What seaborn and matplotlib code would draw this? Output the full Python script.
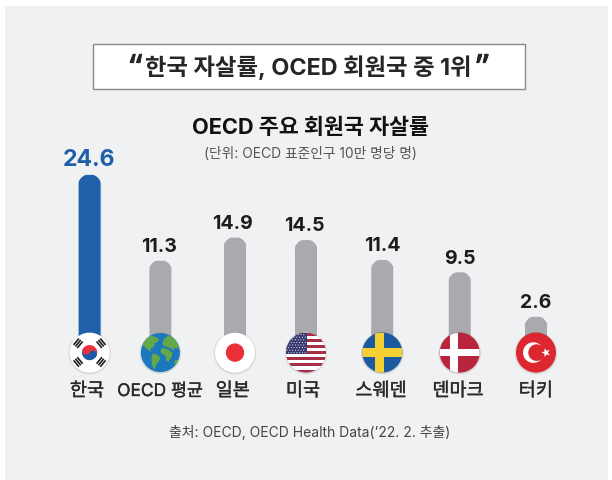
import numpy as np
import pandas as pd
import matplotlib
matplotlib.use("Agg")
import matplotlib.pyplot as plt
import matplotlib.patheffects as pe
import seaborn as sns
from matplotlib.patches import Circle, Rectangle, Polygon, Wedge

countries = ["한국", "OECD 평균", "일본", "미국", "스웨덴", "덴마크", "터키"]
rates = [24.6, 11.3, 14.9, 14.5, 11.4, 9.5, 2.6]
rate_labels = ["24.6", "11.3", "14.9", "14.5", "11.4", "9.5", "2.6"]
headline = "한국 자살률, OCED 회원국 중 1위"
chart_title = "OECD 주요 회원국 자살률"
unit_note = "(단위: OECD 표준인구 10만 명당 명)"
source_note = "출처: OECD, OECD Health Data(’22. 2. 추출)"

# layout (pixels)
W, H = 612, 480
CX = [89.6, 160.4, 235.0, 306.0, 382.3, 459.7, 536.0]
VALUE_X = [89.3, 158.8, 232.8, 304.5, 382.5, 459.7, 536.0]
NAME_X = [87.0, 160.0, 232.8, 303.0, 381.0, 458.0, 535.8]
BAR_W = 23.5
Y0 = 332.75
PX_PER_UNIT = 6.44
FLAG_Y = 352.6
FLAG_R = 20

sns.set_theme(style="white")
FONT = ["Inter", "Noto Sans CJK KR", "DejaVu Sans"]
plt.rcParams["font.family"] = FONT

fig = plt.figure(figsize=(W / 100, H / 100), dpi=100, facecolor="white")

bg = fig.add_axes([0, 0, 1, 1], zorder=0)
bg.set_xlim(0, W); bg.set_ylim(H, 0); bg.axis("off")
bg.add_patch(Rectangle((5, 6), 603, 474, fc="#f0f1f3", ec="none"))

ax = fig.add_axes([0, 0, 1, 1], zorder=1)
ax.patch.set_alpha(0)
df = pd.DataFrame({"country": countries, "rate": rates})
sns.barplot(data=df, x="country", y="rate", hue="country", order=countries,
            hue_order=countries, dodge=False, legend=False, ax=ax,
            palette=["#2060a8"] + ["#a9aaad"] * 6, saturation=1, width=0.32)
ax.set_xlim(-CX[0] / 75, (W - CX[0]) / 75)
ax.set_ylim(Y0 / PX_PER_UNIT - H / PX_PER_UNIT, Y0 / PX_PER_UNIT)
ax.set_xlabel(""); ax.set_ylabel("")
sns.despine(ax=ax, left=True, bottom=True)
ax.set_yticks([])
ax.set_xticks([(c - CX[0]) / 75 for c in CX])
ax.set_xticklabels([])
ax.tick_params(length=0)

ov = fig.add_axes([0, 0, 1, 1], zorder=2)
ov.patch.set_alpha(0)
ov.set_xlim(0, W); ov.set_ylim(H, 0); ov.axis("off")

bars = [p for p in ax.patches if p.get_height() > 0]
bars.sort(key=lambda p: p.get_x())
theta = np.linspace(np.pi, 2 * np.pi, 40)
for c, p, v in zip(CX, bars, rates):
    x = (c - CX[0]) / 75
    wdata = BAR_W / 75
    p.set_x(x - wdata / 2); p.set_width(wdata)
    p.set_y(-1.5); p.set_height(v + 1.5)
    p.set_snap(False)
    top = Y0 - v * PX_PER_UNIT
    r = BAR_W / 2
    cap = [(c + r * np.cos(a), top + r + r * np.sin(a)) for a in theta]
    outline = cap + [(c + r, 420), (c - r, 420)]
    p.set_clip_path(Polygon(outline, closed=True, transform=ov.transData))

for i, (lx, v, lab) in enumerate(zip(VALUE_X, rates, rate_labels)):
    top = Y0 - v * PX_PER_UNIT
    col = "#2060a8" if i == 0 else "#1c1c1c"
    fs = 16.6 if i == 0 else 14
    ov.text(lx, top - (14.8 if i == 0 else 13), lab, ha="center", va="center",
            fontsize=fs, fontweight="bold", color=col)

ov.add_patch(Rectangle((92.5, 43.5), 432, 45, fc="white", ec="#8a8a8a", lw=1))
ov.text(308, 67.5, headline, ha="center", va="center", fontsize=16.8,
        fontweight="bold", color="#262626")
quote_fx = [pe.withStroke(linewidth=0.6, foreground="#262626")]
ov.text(136, 70, "“", ha="center", va="center", fontsize=25, fontweight="bold",
        color="#262626", family=["Noto Sans", "DejaVu Sans"], path_effects=quote_fx)
ov.text(482.5, 70, "”", ha="center", va="center", fontsize=25, fontweight="bold",
        color="#262626", family=["Noto Sans", "DejaVu Sans"], path_effects=quote_fx)
ov.text(310, 127.5, chart_title, ha="center", va="center", fontsize=15.7,
        fontweight="bold", color="#111111")
ov.text(310, 154.5, unit_note, ha="center", va="center", fontsize=9.9, color="#555555")
ov.text(310, 432.5, source_note, ha="center", va="center", fontsize=10, color="#444444")
medium = [pe.withStroke(linewidth=0.25, foreground="#2a2a2a")]
for nx, name in zip(NAME_X, countries):
    size = 12.5 if name.startswith("OECD") else 13.4
    ov.text(nx, 391.5, name, ha="center", va="center", fontsize=size,
            color="#2a2a2a", path_effects=medium)


def disc(cx, fc="white", r=FLAG_R, shadow=True):
    if shadow:
        ov.add_patch(Circle((cx, FLAG_Y + 0.6), r + 1.2, fc="#000000", alpha=0.10, ec="none"))
    c = Circle((cx, FLAG_Y), r, fc=fc, ec="none")
    ov.add_patch(c)
    return c


def clipped(artist, clip):
    ov.add_patch(artist)
    artist.set_clip_path(clip)
    return artist


# Korea
cx = CX[0]
d = disc(cx)
rr = 7.6
ang = 28
ov.add_patch(Wedge((cx, FLAG_Y), rr, ang - 180, ang, fc="#e5323b", ec="none"))
ov.add_patch(Wedge((cx, FLAG_Y), rr, ang, ang + 180, fc="#1c5ba8", ec="none"))
t = np.deg2rad(ang)
ux, uy = np.cos(t), np.sin(t)
ov.add_patch(Circle((cx + ux * rr / 2, FLAG_Y + uy * rr / 2), rr / 2, fc="#1c5ba8", ec="none"))
ov.add_patch(Circle((cx - ux * rr / 2, FLAG_Y - uy * rr / 2), rr / 2, fc="#e5323b", ec="none"))
for sx, sy, rot in [(-1, -1, -50), (1, -1, 50), (-1, 1, 50), (1, 1, -50)]:
    bx, by = cx + sx * 11.5, FLAG_Y + sy * 9.4
    ca, sa = np.cos(np.deg2rad(rot)), np.sin(np.deg2rad(rot))
    for off in (-2.4, 0, 2.4):
        hw, hh = 0.85, 4.2
        pts = [(-hh, off - hw), (hh, off - hw), (hh, off + hw), (-hh, off + hw)]
        ov.add_patch(Polygon([(bx + a * ca - b * sa, by + a * sa + b * ca) for a, b in pts],
                             fc="#222222", ec="none"))

# globe
cx = CX[1]
d = disc(cx, "#1b78bd", r=19.5)
continents = [
    [(-17, -13), (-10, -17), (-3, -15), (-1, -12), (-6, -9), (-6, -6), (-10, -4), (-9, -1), (-13, -3), (-17, -7), (-19, -9)],
    [(-8, 1), (-3, 2), (0, 5), (-1, 8), (-4, 12), (-6, 17), (-8, 14), (-9, 7)],
    [(3, -13), (8, -17), (14, -15), (19, -9), (18, -4), (14, -5), (13, -2), (9, -5), (5, -6), (2, -8)],
    [(2, -5), (8, -3), (12, 0), (11, 5), (8, 9), (6, 8), (5, 3), (1, 1), (0, -2)],
    [(14, 8), (18, 7), (17, 11), (14, 12)],
]
for pts in continents:
    clipped(Polygon([(cx + a, FLAG_Y + b) for a, b in pts], fc="#63a94a", ec="none"), d)

# Japan
cx = CX[2]
disc(cx)
ov.add_patch(Circle((cx, FLAG_Y), 9.2, fc="#ea2f38", ec="none"))

# USA
cx = CX[3]
d = disc(cx)
for i in range(13):
    y0 = FLAG_Y - 20 + i * 40 / 13
    if i % 2 == 0:
        clipped(Rectangle((cx - 20, y0), 40, 40 / 13, fc="#a72f45", ec="none"), d)
clipped(Rectangle((cx - 20, FLAG_Y - 20), 21, 21.5, fc="#35376e", ec="none"), d)
for row in range(8):
    yy = FLAG_Y - 18 + row * 2.6
    for col in range(7):
        xx = cx - 19 + col * 2.8 + (row % 2) * 1.4
        if xx < cx + 0.5:
            clipped(Circle((xx, yy), 0.55, fc="white", ec="none"), d)

# Sweden
cx = CX[4]
d = disc(cx, "#1c5aa0")
clipped(Rectangle((cx - 20, FLAG_Y - 4.4), 40, 8.8, fc="#f5d033", ec="none"), d)
clipped(Rectangle((cx - 7.2, FLAG_Y - 20), 8.4, 40, fc="#f5d033", ec="none"), d)

# Denmark
cx = CX[5]
d = disc(cx, "#b9253d")
clipped(Rectangle((cx - 20, FLAG_Y - 3.2), 40, 6.4, fc="white", ec="none"), d)
clipped(Rectangle((cx - 10, FLAG_Y - 20), 7.8, 40, fc="white", ec="none"), d)

# Turkey
cx = CX[6]
d = disc(cx, "#dc2730")
ov.add_patch(Circle((cx - 2.7, FLAG_Y), 10.3, fc="white", ec="none"))
ov.add_patch(Circle((cx + 0.6, FLAG_Y), 8.3, fc="#dc2730", ec="none"))
star = []
for k in range(10):
    rad = 4.6 if k % 2 == 0 else 1.9
    a = np.deg2rad(180 + k * 36)
    star.append((cx + 10 + rad * np.cos(a), FLAG_Y + rad * np.sin(a)))
ov.add_patch(Polygon(star, fc="white", ec="none"))

fig.savefig("out.png", dpi=100, facecolor="white")
